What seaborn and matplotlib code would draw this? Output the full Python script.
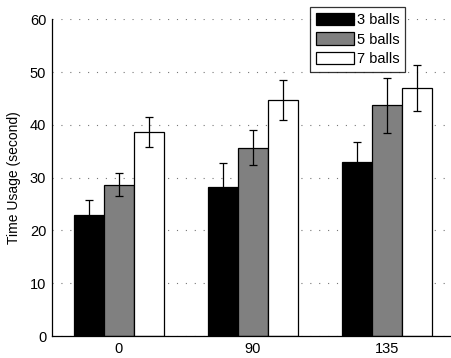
import numpy as np
import pandas as pd
import seaborn as sns
import matplotlib
matplotlib.use("Agg")
import matplotlib.pyplot as plt

angles = ["0", "90", "135"]
series = ["3 balls", "5 balls", "7 balls"]
means_3 = [22.9, 28.2, 32.9]
means_5 = [28.7, 35.7, 43.7]
means_7 = [38.7, 44.7, 47.05]
err_3 = [2.9, 4.5, 3.9]
err_5 = [2.1, 3.25, 5.2]
err_7 = [2.85, 3.8, 4.35]
colors = ["#000000", "#808080", "#ffffff"]
yticks = [0, 10, 20, 30, 40, 50, 60]

sns.set_theme(style="white")
plt.rcParams['font.family'] = ['Liberation Sans', 'DejaVu Sans']
plt.rcParams['text.color'] = '#000000'
plt.rcParams['axes.labelcolor'] = '#000000'

rows = []
for s, m in zip(series, [means_3, means_5, means_7]):
    for a, v in zip(angles, m):
        rows.append({"angle": a, "series": s, "value": v})
df = pd.DataFrame(rows)

fig = plt.figure(figsize=(4.51, 3.58), dpi=100)
ax = fig.add_axes([51.7 / 451, 1 - 336 / 358, (454 - 51.7) / 451, (336 - 19.3) / 358])

sns.barplot(data=df, x="angle", y="value", hue="series", order=angles,
            hue_order=series, palette=colors, errorbar=None, width=0.67,
            edgecolor="#000000", linewidth=0.9, ax=ax, legend=True, saturation=1)

# error bars at bar centers
errs = {"3 balls": err_3, "5 balls": err_5, "7 balls": err_7}
for cont, s in zip(ax.containers, series):
    xs = [p.get_x() + p.get_width() / 2 for p in cont.patches]
    ys = [p.get_height() for p in cont.patches]
    ax.errorbar(xs, ys, yerr=errs[s], fmt="none", ecolor="#000000",
                elinewidth=0.9, capsize=3, capthick=0.9, zorder=5)

ax.set_xlim(-0.5, 2.5)
ax.set_ylim(0, 60)
ax.set_yticks(yticks)
ax.set_xlabel("")
ax.set_ylabel("Time Usage (second)", fontsize=10, labelpad=6, color="#000000")
ax.tick_params(axis="both", labelsize=10.5, length=0, pad=4, colors="#000000")
ax.yaxis.grid(True, linestyle=(0, (1, 7)), color="#777777", linewidth=0.8)
ax.set_axisbelow(True)
for side in ["top", "right"]:
    ax.spines[side].set_visible(False)
for side in ["left", "bottom"]:
    ax.spines[side].set_color("#000000")
    ax.spines[side].set_linewidth(0.9)

leg = ax.legend(loc="upper left", bbox_to_anchor=((310 - 51.7) / (454 - 51.7), 1 + (19.3 - 7) / 316.7),
                fontsize=10.5, frameon=True, fancybox=False, edgecolor="#000000",
                handlelength=2.6, handleheight=0.95, handletextpad=0.2,
                labelspacing=0.35, borderpad=0.4, borderaxespad=0)
leg.get_frame().set_linewidth(0.9)
for t in leg.get_texts():
    t.set_color("#000000")

fig.savefig("out.png", dpi=100)
